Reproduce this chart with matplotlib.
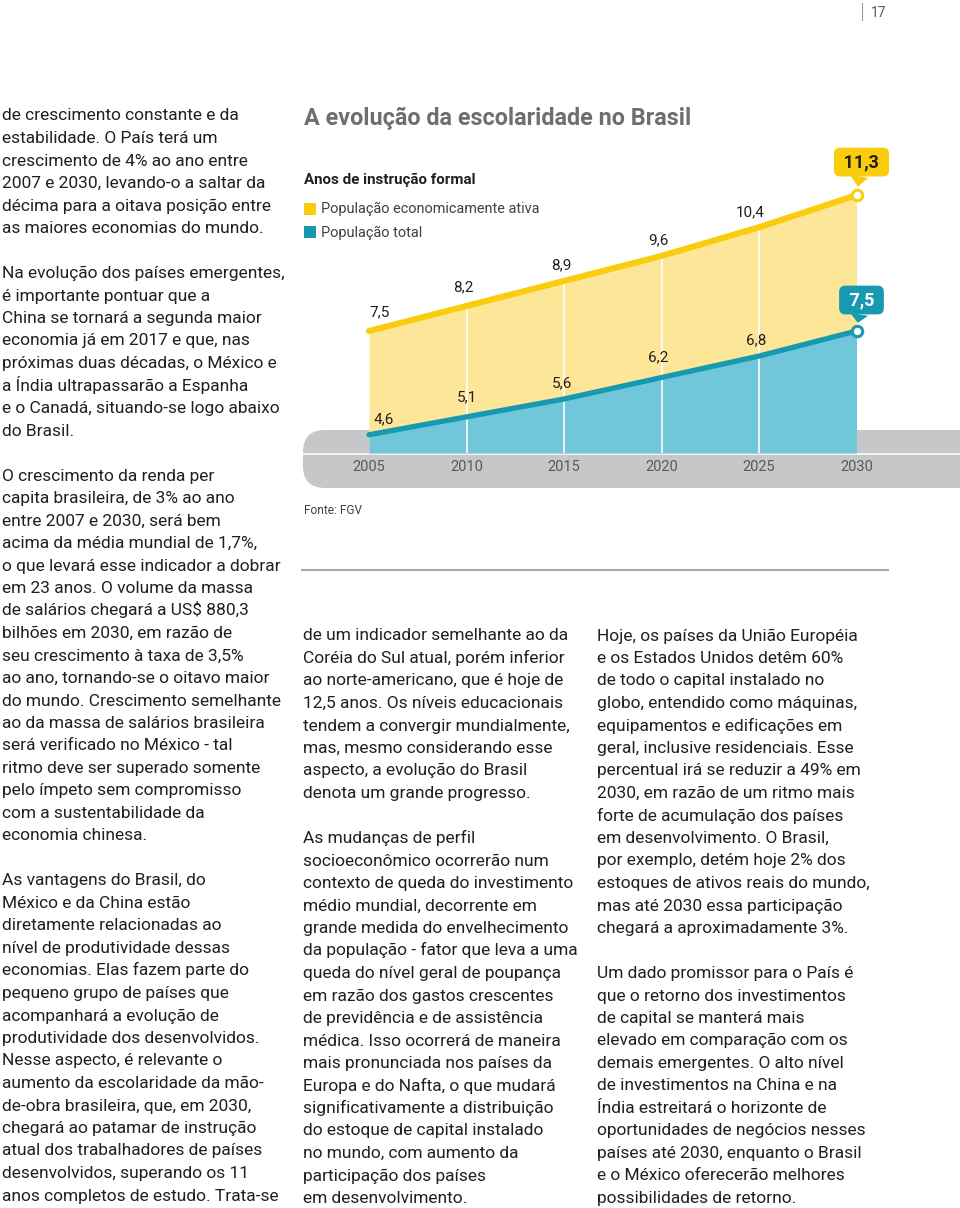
import matplotlib

matplotlib.use("Agg")
import matplotlib.pyplot as plt
from matplotlib.font_manager import FontProperties
from matplotlib.patches import FancyBboxPatch, Rectangle
from matplotlib.textpath import TextPath

W, H, DPI = 960, 1208, 100
FONT = "Roboto"

# ---- chart data (anos de instrução formal) ----
years = [2005, 2010, 2015, 2020, 2025, 2030]
pea = [7.5, 8.2, 8.9, 9.6, 10.4, 11.3]  # população economicamente ativa
total = [4.6, 5.1, 5.6, 6.2, 6.8, 7.5]  # população total
series_names = ["População economicamente ativa", "População total"]

TITLE = "A evolução da escolaridade no Brasil"
SUBTITLE = "Anos de instrução formal"
SOURCE = "Fonte: FGV"
PAGE_NO = "17"

# ---- body text, one entry per printed line ("" = paragraph break) ----
col1 = [
    "de crescimento constante e da",
    "estabilidade. O País terá um",
    "crescimento de 4% ao ano entre",
    "2007 e 2030, levando-o a saltar da",
    "décima para a oitava posição entre",
    "as maiores economias do mundo.",
    "",
    "Na evolução dos países emergentes,",
    "é importante pontuar que a",
    "China se tornará a segunda maior",
    "economia já em 2017 e que, nas",
    "próximas duas décadas, o México e",
    "a Índia ultrapassarão a Espanha",
    "e o Canadá, situando-se logo abaixo",
    "do Brasil.",
    "",
    "O crescimento da renda per",
    "capita brasileira, de 3% ao ano",
    "entre 2007 e 2030, será bem",
    "acima da média mundial de 1,7%,",
    "o que levará esse indicador a dobrar",
    "em 23 anos. O volume da massa",
    "de salários chegará a US$ 880,3",
    "bilhões em 2030, em razão de",
    "seu crescimento à taxa de 3,5%",
    "ao ano, tornando-se o oitavo maior",
    "do mundo. Crescimento semelhante",
    "ao da massa de salários brasileira",
    "será verificado no México - tal",
    "ritmo deve ser superado somente",
    "pelo ímpeto sem compromisso",
    "com a sustentabilidade da",
    "economia chinesa.",
    "",
    "As vantagens do Brasil, do",
    "México e da China estão",
    "diretamente relacionadas ao",
    "nível de produtividade dessas",
    "economias. Elas fazem parte do",
    "pequeno grupo de países que",
    "acompanhará a evolução de",
    "produtividade dos desenvolvidos.",
    "Nesse aspecto, é relevante o",
    "aumento da escolaridade da mão-",
    "de-obra brasileira, que, em 2030,",
    "chegará ao patamar de instrução",
    "atual dos trabalhadores de países",
    "desenvolvidos, superando os 11",
    "anos completos de estudo. Trata-se",
]
col2 = [
    "de um indicador semelhante ao da",
    "Coréia do Sul atual, porém inferior",
    "ao norte-americano, que é hoje de",
    "12,5 anos. Os níveis educacionais",
    "tendem a convergir mundialmente,",
    "mas, mesmo considerando esse",
    "aspecto, a evolução do Brasil",
    "denota um grande progresso.",
    "",
    "As mudanças de perfil",
    "socioeconômico ocorrerão num",
    "contexto de queda do investimento",
    "médio mundial, decorrente em",
    "grande medida do envelhecimento",
    "da população - fator que leva a uma",
    "queda do nível geral de poupança",
    "em razão dos gastos crescentes",
    "de previdência e de assistência",
    "médica. Isso ocorrerá de maneira",
    "mais pronunciada nos países da",
    "Europa e do Nafta, o que mudará",
    "significativamente a distribuição",
    "do estoque de capital instalado",
    "no mundo, com aumento da",
    "participação dos países",
    "em desenvolvimento.",
]
col3 = [
    "Hoje, os países da União Européia",
    "e os Estados Unidos detêm 60%",
    "de todo o capital instalado no",
    "globo, entendido como máquinas,",
    "equipamentos e edificações em",
    "geral, inclusive residenciais. Esse",
    "percentual irá se reduzir a 49% em",
    "2030, em razão de um ritmo mais",
    "forte de acumulação dos países",
    "em desenvolvimento. O Brasil,",
    "por exemplo, detém hoje 2% dos",
    "estoques de ativos reais do mundo,",
    "mas até 2030 essa participação",
    "chegará a aproximadamente 3%.",
    "",
    "Um dado promissor para o País é",
    "que o retorno dos investimentos",
    "de capital se manterá mais",
    "elevado em comparação com os",
    "demais emergentes. O alto nível",
    "de investimentos na China e na",
    "Índia estreitará o horizonte de",
    "oportunidades de negócios nesses",
    "países até 2030, enquanto o Brasil",
    "e o México oferecerão melhores",
    "possibilidades de retorno.",
]

YELLOW = "#F9CD0D"
YELLOW_FILL = "#FDE697"
TEAL = "#1799B2"
TEAL_FILL = "#70C7D9"
GREY_BAR = "#C6C7C9"
INK = "#231F20"


def fit_pt(s, target_px, weight="normal"):
    """font size (pt) that makes s about target_px wide"""
    w = TextPath((0, 0), s, size=10, prop=FontProperties(family=FONT, weight=weight)).get_extents().width
    return 10 * target_px * 72 / (w * DPI)


def fmt(v):
    return f"{v:.1f}".replace(".", ",")


fig = plt.figure(figsize=(W / DPI, H / DPI), dpi=DPI)
plt.rcParams["font.family"] = [FONT, "DejaVu Sans"]

# page layer in pixel units (y down)
page = fig.add_axes([0, 0, 1, 1])
page.set_xlim(0, W)
page.set_ylim(H, 0)
page.axis("off")

# page number
page.plot([862, 862], [3, 20], color="#9D9FA2", lw=0.8)
page.text(871, 17, PAGE_NO, fontsize=10, color="#58595B")

# body columns
body_pt = fit_pt("e o Canadá, situando-se logo abaixo", 278)
LEAD = 22.5
for x0, y0, lines in [(2, 120.5, col1), (303, 640.5, col2), (597, 640.5, col3)]:
    for i, s in enumerate(lines):
        if s:
            page.text(x0, y0 + i * LEAD, s, fontsize=body_pt, color=INK, va="baseline")

# chart header
page.text(304, 125, TITLE, fontsize=fit_pt(TITLE, 386, "bold"), fontweight="bold", color="#6D6E71", va="baseline")
page.text(304, 184, SUBTITLE, fontsize=fit_pt(SUBTITLE, 171, "bold"), fontweight="bold", color=INK, va="baseline")
leg_pt = fit_pt(series_names[0], 218)
for (yy, col), name in zip([(203, YELLOW), (226, TEAL)], series_names):
    page.add_patch(Rectangle((304, yy), 12, 12, fc=col, ec="none"))
    page.text(321, yy + 10.5, name, fontsize=leg_pt, color="#414042", va="baseline")

# grey base bar with rounded left end
page.add_patch(FancyBboxPatch((303, 430), 720, 58, boxstyle="round,pad=0,rounding_size=22", fc=GREY_BAR, ec="none"))
page.plot([303, W], [454, 454], color="white", lw=1.1)

page.text(304, 514, SOURCE, fontsize=fit_pt(SOURCE, 57), color="#414042", va="baseline")
page.plot([302, 888], [570, 570], color="#A7A9AC", lw=1.5)

# ---- the chart itself ----
ax = fig.add_axes([369 / W, 1 - 453 / H, 487.5 / W, 313 / H])
ax.set_xlim(years[0], years[-1])
ax.set_ylim(4.09, 12.84)
ax.patch.set_visible(False)
for sp in ax.spines.values():
    sp.set_visible(False)
ax.set_yticks([])
ax.set_xticks(years)
ax.tick_params(axis="x", length=0, pad=5, labelsize=10.5, labelcolor="#58595B")

base = ax.get_ylim()[0]
ax.fill_between(years, pea, base, color=YELLOW_FILL, lw=0, zorder=1)
ax.fill_between(years, total, base, color=TEAL_FILL, lw=0, zorder=2)
ax.vlines(years[1:-1], base, pea[1:-1], color="white", lw=1.2, zorder=3)
ax.plot(years, pea, color=YELLOW, lw=4.4, solid_capstyle="round", zorder=4, clip_on=False)
ax.plot(years, total, color=TEAL, lw=3.8, solid_capstyle="round", zorder=4, clip_on=False)

# value labels (offsets in px)
pea_off = [(11, 19), (-3, 19), (-3, 16), (-3, 16), (-9, 15)]
total_off = [(15, 15), (0, 20), (-2, 16), (-3, 20), (-3, 16)]
val_pt = 11
for vals, offs in [(pea, pea_off), (total, total_off)]:
    for x, v, (dx, dy) in zip(years[:-1], vals[:-1], offs):
        ax.annotate(fmt(v), (x, v), xytext=(dx * 0.72, dy * 0.72), textcoords="offset points",
                    ha="center", va="center", fontsize=val_pt, color=INK, zorder=6)

# end points with callout boxes
for vals, col, txt_col, dy in [(pea, YELLOW, INK, 33), (total, TEAL, "white", 31)]:
    ax.plot(years[-1], vals[-1], "o", ms=7.5, mfc="white", mec=col, mew=2.2, zorder=5, clip_on=False)
    ax.annotate(f" {fmt(vals[-1])} ", (years[-1], vals[-1]), xytext=(5 * 0.72, dy * 0.72),
                textcoords="offset points", ha="center", va="center", fontsize=13, fontweight="bold",
                color=txt_col, zorder=6,
                bbox=dict(boxstyle="round,pad=0.3,rounding_size=0.35", fc=col, ec="none"),
                arrowprops=dict(arrowstyle="wedge,tail_width=1.0,shrink_factor=0.5", fc=col, ec="none",
                                shrinkA=0, shrinkB=6))

fig.savefig("out.png", dpi=DPI)
